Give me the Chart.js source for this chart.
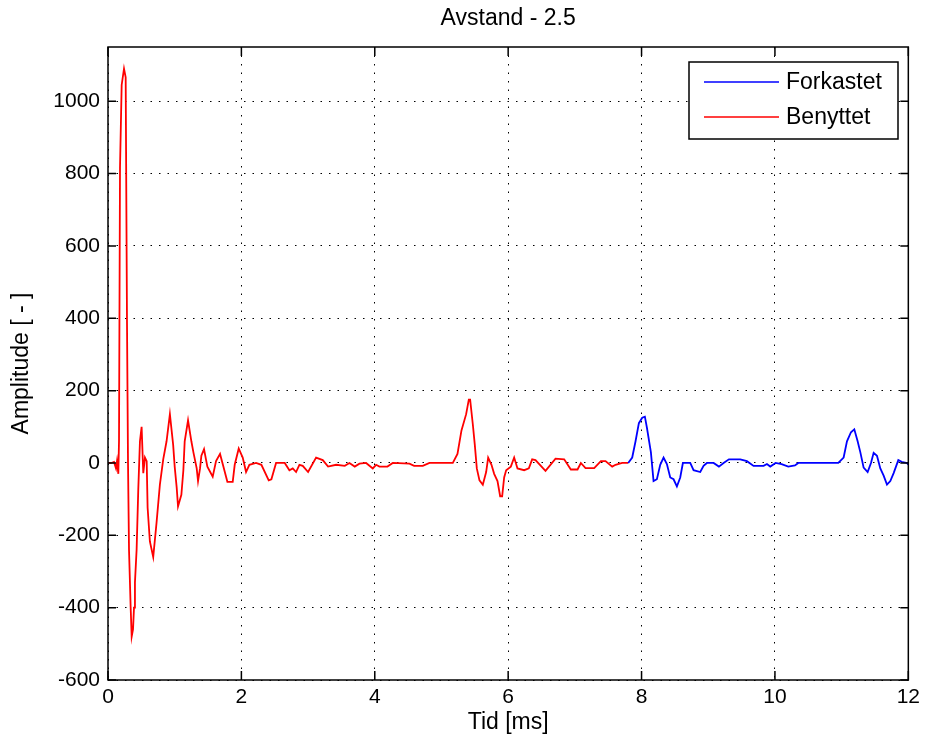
<!DOCTYPE html>
<html>
<head>
<meta charset="utf-8">
<script src="https://cdn.jsdelivr.net/npm/chart.js@4"></script>
<style>
  html, body { margin: 0; padding: 0; background: #fff; }
  #wrap { width: 925px; height: 746px; }
</style>
</head>
<body>
<div id="wrap"><canvas id="chart" width="925" height="746"></canvas></div>
<script>
const title = 'Avstand - 2.5'
const xLabel = 'Tid [ms]'
const yLabel = 'Amplitude [ - ]'

// red part (used)
const benyttetTid = [0, 0.05, 0.09, 0.12, 0.135, 0.155, 0.165, 0.18, 0.205, 0.24, 0.265, 0.285, 0.30, 0.315, 0.34, 0.355,
    0.375, 0.39, 0.404, 0.429, 0.454, 0.479, 0.504, 0.529, 0.554, 0.58, 0.594, 0.628, 0.678, 0.728, 0.778, 0.828,
    0.878, 0.928, 0.977, 1.00, 1.03, 1.05, 1.10, 1.13, 1.15, 1.20, 1.25, 1.28, 1.33, 1.35, 1.38, 1.40, 1.44, 1.49,
    1.57, 1.62, 1.68, 1.73, 1.79, 1.87, 1.90, 1.96, 2.02, 2.07, 2.12, 2.22, 2.30, 2.41, 2.45, 2.52, 2.65, 2.72,
    2.77, 2.82, 2.87, 2.92, 3.00, 3.12, 3.22, 3.30, 3.42, 3.55, 3.62, 3.70, 3.77, 3.87, 3.97, 4.02, 4.07, 4.19,
    4.27, 4.52, 4.59, 4.72, 4.82, 5.17, 5.24, 5.30, 5.37, 5.41, 5.43, 5.47, 5.50, 5.53, 5.57, 5.62, 5.67, 5.70,
    5.75, 5.79, 5.84, 5.88, 5.91, 5.94, 5.97, 6.04, 6.09, 6.14, 6.24, 6.31, 6.36, 6.41, 6.56, 6.71, 6.84, 6.94,
    7.04, 7.09, 7.16, 7.29, 7.39, 7.46, 7.56, 7.61, 7.71, 7.80]
const benyttetAmp = [0, 0, 3, -15, 5, -30, 60, 817, 1045, 1090, 1066, 385, 0, -240, -400, -480,
    -460, -400, -330, -240, -73, 60, 100, -28, 15, 5, -124, -217, -260, -165, -60, 10,
    60, 135, 50, -10, -68, -120, -88, -20, 60, 118, 60, 30, -15, -50, -15, 20, 38, -10,
    -38, 5, 25, -10, -52, -52, -5, 40, 15, -25, -5, 0, -5, -48, -45, 0, 0, -20,
    -15, -25, -5, -8, -25, 15, 8, -10, -5, -8, 0, -10, -2, 0, -15, -5, -10, -10,
    0, -2, -8, -8, 0, 0, 25, 90, 135, 175, 175, 107, 50, -15, -48, -60, -25, 15,
    -5, -30, -50, -92, -92, -40, -20, -10, 15, -15, -20, -15, 10, 8, -22, 12, 10, -18,
    -18, 0, -14, -14, 5, 5, -10, -5, 0, 0]

// blue part (discarded)
const forkastetTid = [7.80, 7.86, 7.91, 7.96, 8.01, 8.05, 8.08, 8.14, 8.18, 8.23, 8.28, 8.33, 8.38, 8.43, 8.48, 8.53,
    8.58, 8.62, 8.73, 8.78, 8.88, 8.93, 8.98, 9.08, 9.16, 9.23, 9.31, 9.48, 9.58, 9.68, 9.83, 9.88, 9.93, 10.01,
    10.10, 10.20, 10.30, 10.35, 10.65, 10.95, 11.03, 11.08, 11.14, 11.19, 11.24, 11.28, 11.33, 11.39, 11.44,
    11.48, 11.53, 11.58, 11.63, 11.68, 11.73, 11.78, 11.85, 11.90, 11.98, 12.0]
const forkastetAmp = [0, 15, 60, 110, 125, 128, 98, 30, -50, -45, -5, 15, -3, -40, -45, -65,
    -40, 0, 0, -20, -25, -8, 0, 0, -10, 0, 10, 10, 5, -8, -8, -3, -10, 0,
    -3, -10, -7, 0, 0, 0, 15, 60, 85, 93, 60, 30, -13, -25, 0,
    28, 20, -15, -35, -60, -50, -28, 8, 3, 0, -5]

const xTicks = [0, 2, 4, 6, 8, 10, 12]
const yTicks = [-600, -400, -200, 0, 200, 400, 600, 800, 1000]

const toPoints = (tid, amp) => tid.map((t, i) => ({x: t, y: amp[i]}))

const FONT = 'Arial, "Liberation Sans", sans-serif'

// box, inward ticks, title and legend like the matlab figure
const matlabLook = {
    id: 'matlabLook',
    afterDraw(chart) {
        const {ctx, chartArea: a, scales: {x, y}} = chart
        ctx.save()
        ctx.strokeStyle = '#000'
        ctx.lineWidth = 1.5
        ctx.strokeRect(a.left, a.top, a.right - a.left, a.bottom - a.top)
        ctx.beginPath()
        xTicks.forEach(v => {
            const px = x.getPixelForValue(v)
            ctx.moveTo(px, a.bottom); ctx.lineTo(px, a.bottom - 9)
            ctx.moveTo(px, a.top); ctx.lineTo(px, a.top + 9)
        })
        yTicks.forEach(v => {
            const py = y.getPixelForValue(v)
            ctx.moveTo(a.left, py); ctx.lineTo(a.left + 8, py)
            ctx.moveTo(a.right, py); ctx.lineTo(a.right - 8, py)
        })
        ctx.stroke()

        ctx.fillStyle = '#000'
        ctx.font = '23px ' + FONT
        ctx.textAlign = 'center'
        ctx.textBaseline = 'middle'
        ctx.fillText(title, (a.left + a.right) / 2, 19)

        // legend
        const lx = 689, ly = 62, lw = 209, lh = 77
        ctx.fillStyle = '#fff'
        ctx.fillRect(lx, ly, lw, lh)
        ctx.strokeRect(lx, ly, lw, lh)
        ctx.font = '23px ' + FONT
        ctx.textAlign = 'left'
        chart.data.datasets.forEach((ds, i) => {
            const yy = ly + 20 + i * 35
            ctx.strokeStyle = ds.borderColor
            ctx.lineWidth = 1.7
            ctx.beginPath()
            ctx.moveTo(lx + 15, yy); ctx.lineTo(lx + 90, yy)
            ctx.stroke()
            ctx.fillStyle = '#000'
            ctx.fillText(ds.label, lx + 97, yy + 1)
        })
        ctx.restore()
    }
}

new Chart(document.getElementById('chart'), {
    type: 'line',
    data: {
        datasets: [{
            label: 'Forkastet',
            data: toPoints(forkastetTid, forkastetAmp),
            borderColor: '#0000ff',
            borderWidth: 1.8,
            pointRadius: 0,
            tension: 0
        }, {
            label: 'Benyttet',
            data: toPoints(benyttetTid, benyttetAmp),
            borderColor: '#ff0000',
            borderWidth: 1.8,
            pointRadius: 0,
            tension: 0
        }]
    },
    options: {
        responsive: false,
        animation: false,
        devicePixelRatio: 1,
        layout: { padding: { top: 47, right: 15, left: 0, bottom: 0 } },
        plugins: { legend: { display: false }, title: { display: false }, tooltip: { enabled: false } },
        scales: {
            x: {
                type: 'linear',
                min: 0,
                max: 12,
                afterFit: s => { s.height = 66 },
                afterBuildTicks: s => { s.ticks = xTicks.map(v => ({value: v})) },
                ticks: { color: '#000', font: { size: 21, family: FONT }, padding: 5, maxRotation: 0, callback: v => String(v) },
                grid: { color: '#000', lineWidth: 1, drawTicks: false },
                border: { display: false, dash: [1.5, 7] },
                title: { display: true, text: xLabel, color: '#000', font: { size: 23, family: FONT }, padding: { top: 0, bottom: 10 } }
            },
            y: {
                min: -600,
                max: 1150,
                afterFit: s => { s.width = 108 },
                afterBuildTicks: s => { s.ticks = yTicks.map(v => ({value: v})) },
                ticks: { color: '#000', font: { size: 21, family: FONT }, padding: 8, callback: v => String(v) },
                grid: { color: '#000', lineWidth: 1, drawTicks: false },
                border: { display: false, dash: [1.5, 7] },
                title: { display: true, text: yLabel, color: '#000', font: { size: 23, family: FONT }, padding: { top: 8, bottom: 0 } }
            }
        }
    },
    plugins: [matlabLook]
})
</script>
</body>
</html>
